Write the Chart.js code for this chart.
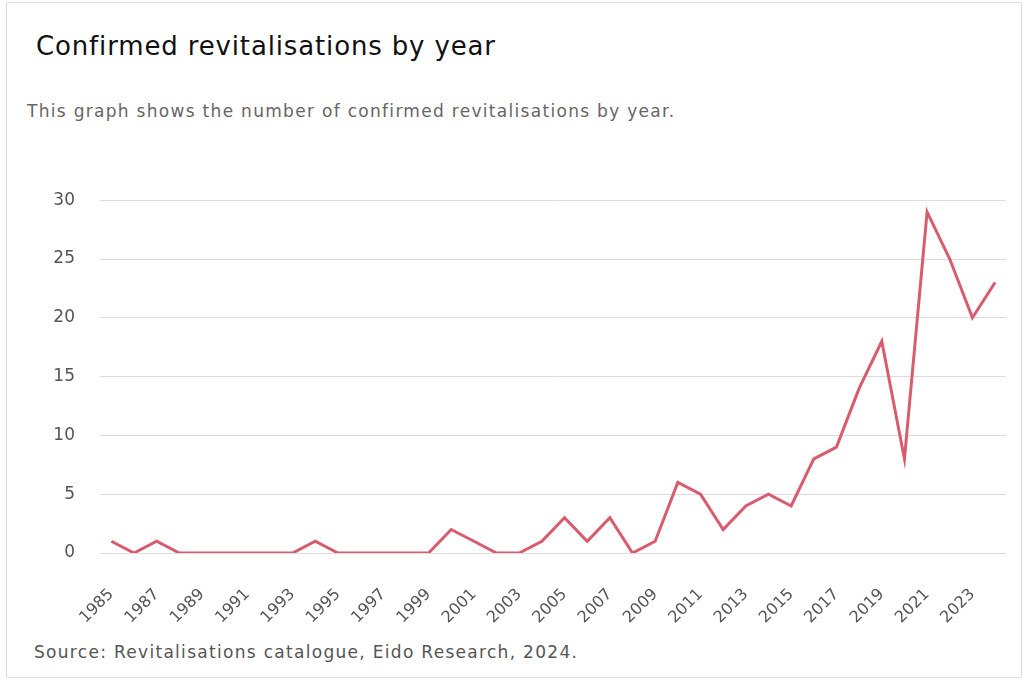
<!DOCTYPE html>
<html>
<head>
<meta charset="utf-8">
<script src="https://cdn.jsdelivr.net/npm/chart.js@4"></script>
<style>
  body { margin: 0; background: #fff; font-family: "DejaVu Sans", sans-serif; }
  .card {
    position: absolute; left: 6px; top: 2px; width: 1014px; height: 674px;
    border: 1px solid #dcdcdc; border-radius: 2px; background: #fff;
  }
  h1 {
    position: absolute; left: 29px; top: 28px; margin: 0;
    font-size: 26px; font-weight: 500; letter-spacing: 0.85px; color: #111;
  }
  .sub {
    position: absolute; left: 20px; top: 98px; margin: 0;
    font-size: 17px; letter-spacing: 1.3px; color: #666;
  }
  .source {
    position: absolute; left: 27px; top: 639px; margin: 0;
    font-size: 17px; letter-spacing: 1.3px; color: #555;
  }
  .wrap { position: absolute; left: 14px; top: 162px; width: 989px; height: 465px; }
</style>
</head>
<body>
<div class="card">
  <h1>Confirmed revitalisations by year</h1>
  <p class="sub">This graph shows the number of confirmed revitalisations by year.</p>
  <div class="wrap"><canvas id="chart"></canvas></div>
  <p class="source">Source: Revitalisations catalogue, Eido Research, 2024.</p>
</div>
<script>
// Years 1985..2024
const years = [
  "1985", "1986", "1987", "1988", "1989", "1990", "1991", "1992", "1993", "1994",
  "1995", "1996", "1997", "1998", "1999", "2000", "2001", "2002", "2003", "2004",
  "2005", "2006", "2007", "2008", "2009", "2010", "2011", "2012", "2013", "2014",
  "2015", "2016", "2017", "2018", "2019", "2020", "2021", "2022", "2023", "2024"
];

// Confirmed revitalisations per year
const revitalisations = [
  1, 0, 1, 0, 0, 0, 0, 0, 0, 1,
  0, 0, 0, 0, 0, 2, 1, 0, 0, 1,
  3, 1, 3, 0, 1, 6, 5, 2, 4, 5,
  4, 8, 9, 14, 18, 8, 29, 25, 20, 23
];

const yTicks = [0, 5, 10, 15, 20, 25, 30];

const ctx = document.getElementById("chart").getContext("2d");
new Chart(ctx, {
  type: "line",
  data: {
    labels: years,
    datasets: [{
      label: "Confirmed revitalisations",
      data: revitalisations,
      borderColor: "#d95b6e",
      borderWidth: 3,
      pointRadius: 0,
      tension: 0,
      fill: false,
    }],
  },
  options: {
    responsive: true,
    maintainAspectRatio: false,
    animation: false,
    layout: { padding: { left: 0, right: 0, top: 17, bottom: 0 } },
    plugins: {
      legend: { display: false },
      tooltip: { enabled: false },
    },
    scales: {
      x: {
        offset: true,
        afterFit: (axis) => { axis.height = 77; },
        grid: { display: false },
        border: { display: false },
        ticks: {
          color: "#555",
          padding: 24,
          font: { family: "DejaVu Sans", size: 16 },
          minRotation: 45,
          maxRotation: 45,
          autoSkip: true,
          maxTicksLimit: 20,
        },
      },
      y: {
        min: 0,
        max: yTicks[yTicks.length - 1],
        afterBuildTicks: (axis) => { axis.ticks = yTicks.map((v) => ({ value: v })); },
        afterFit: (axis) => { axis.width = 79; },
        grid: { color: "#dcdcdc", drawTicks: false },
        border: { display: false },
        ticks: {
          color: "#555",
          padding: 25,
          font: { family: "DejaVu Sans", size: 17 },
        },
      },
    },
  },
});
</script>
</body>
</html>
